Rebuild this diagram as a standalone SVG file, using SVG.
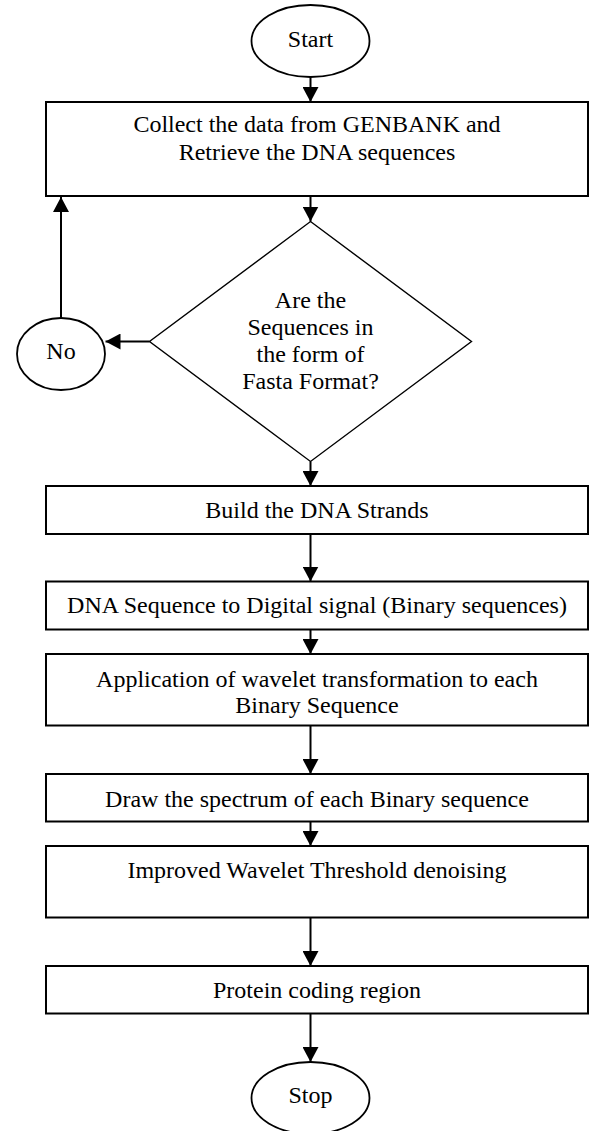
<svg xmlns="http://www.w3.org/2000/svg" width="589" height="1131" viewBox="0 0 589 1131">
  <style>
    .box { fill: #ffffff; stroke: #000000; stroke-width: 2; }
    .term { fill: #ffffff; stroke: #000000; stroke-width: 1.8; }
    .dec { fill: #ffffff; stroke: #000000; stroke-width: 1.4; }
    .lbl { font-family: "Liberation Serif", "Times New Roman", serif; font-size: 24px; fill: #000000; text-anchor: middle; }
    .edge { fill: none; stroke: #000000; stroke-width: 2; }
  </style>
  <defs>
    <marker id="arrow" viewBox="0 0 15 16" refX="15" refY="8" markerWidth="15" markerHeight="16" markerUnits="userSpaceOnUse" orient="auto">
      <path d="M0,0 L15,8 L0,16 Z" fill="#000000"/>
    </marker>
  </defs>
  <rect width="589" height="1131" fill="#ffffff"/>

  <!-- connectors -->
  <g id="connectors">
    <line class="edge" x1="310.5" y1="77" x2="310.5" y2="102" marker-end="url(#arrow)"/>
    <line class="edge" x1="310.5" y1="196" x2="310.5" y2="221.5" marker-end="url(#arrow)"/>
    <line class="edge" x1="149.5" y1="341.5" x2="105.5" y2="341.5" marker-end="url(#arrow)"/>
    <line class="edge" x1="61" y1="318" x2="61" y2="197" marker-end="url(#arrow)"/>
    <line class="edge" x1="310.5" y1="461.5" x2="310.5" y2="486" marker-end="url(#arrow)"/>
    <line class="edge" x1="310.5" y1="534" x2="310.5" y2="581.5" marker-end="url(#arrow)"/>
    <line class="edge" x1="310.5" y1="629.5" x2="310.5" y2="654" marker-end="url(#arrow)"/>
    <line class="edge" x1="310.5" y1="725.5" x2="310.5" y2="774" marker-end="url(#arrow)"/>
    <line class="edge" x1="310.5" y1="821.5" x2="310.5" y2="846" marker-end="url(#arrow)"/>
    <line class="edge" x1="310.5" y1="917.5" x2="310.5" y2="966" marker-end="url(#arrow)"/>
    <line class="edge" x1="310.5" y1="1013.5" x2="310.5" y2="1062" marker-end="url(#arrow)"/>
  </g>

  <g id="start">
    <ellipse class="term" cx="310.5" cy="41" rx="59" ry="36"/>
    <text class="lbl" x="310.5" y="46.5">Start</text>
  </g>

  <g id="collect">
    <rect class="box" x="46" y="102" width="542" height="94"/>
    <text class="lbl" x="317" y="131.5">Collect the data from GENBANK and</text>
    <text class="lbl" x="317" y="160">Retrieve the DNA sequences</text>
  </g>

  <g id="fasta-check">
    <polygon class="dec" points="310.5,221.5 471.5,341.5 310.5,461.5 149.5,341.5"/>
    <text class="lbl" x="310.5" y="308">Are the</text>
    <text class="lbl" x="310.5" y="335">Sequences in</text>
    <text class="lbl" x="310.5" y="362">the form of</text>
    <text class="lbl" x="310.5" y="389">Fasta Format?</text>
  </g>

  <g id="no">
    <ellipse class="term" cx="61" cy="354" rx="44" ry="36"/>
    <text class="lbl" x="61" y="358.5">No</text>
  </g>

  <g id="build-strands">
    <rect class="box" x="46" y="486" width="542" height="48"/>
    <text class="lbl" x="317" y="518">Build the DNA Strands</text>
  </g>

  <g id="to-digital">
    <rect class="box" x="46" y="581.5" width="542" height="48"/>
    <text class="lbl" x="317" y="613">DNA Sequence to Digital signal (Binary sequences)</text>
  </g>

  <g id="wavelet-transform">
    <rect class="box" x="46" y="654" width="542" height="71.5"/>
    <text class="lbl" x="317" y="686.5">Application of wavelet transformation to each</text>
    <text class="lbl" x="317" y="713">Binary Sequence</text>
  </g>

  <g id="spectrum">
    <rect class="box" x="46" y="774" width="542" height="47.5"/>
    <text class="lbl" x="317" y="806.5">Draw the spectrum of each Binary sequence</text>
  </g>

  <g id="denoising">
    <rect class="box" x="46" y="846" width="542" height="71.5"/>
    <text class="lbl" x="317" y="878">Improved Wavelet Threshold denoising</text>
  </g>

  <g id="coding-region">
    <rect class="box" x="46" y="966" width="542" height="47.5"/>
    <text class="lbl" x="317" y="998">Protein coding region</text>
  </g>

  <g id="stop">
    <ellipse class="term" cx="310.5" cy="1098" rx="59" ry="36"/>
    <text class="lbl" x="310.5" y="1103">Stop</text>
  </g>
</svg>
